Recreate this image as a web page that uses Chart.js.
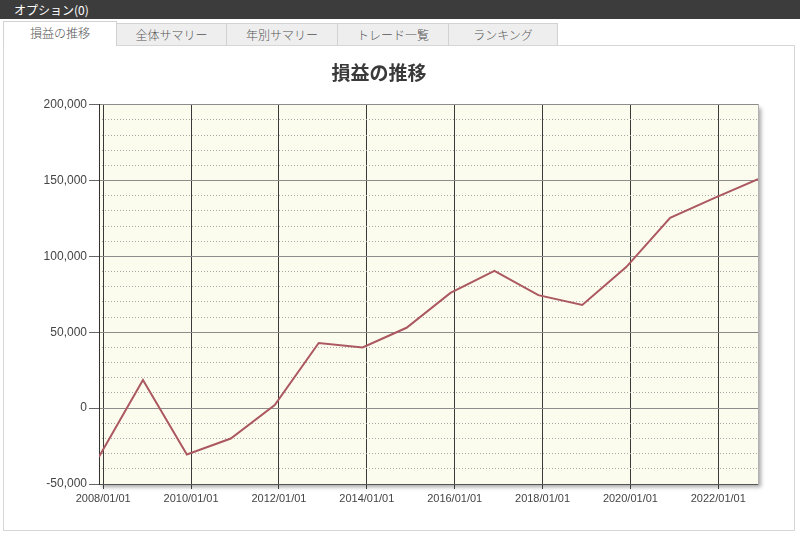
<!DOCTYPE html>
<html lang="ja">
<head>
<meta charset="utf-8">
<title>損益の推移</title>
<script src="https://cdn.jsdelivr.net/npm/chart.js@4.4.0/dist/chart.umd.min.js"></script>
<style>
  html, body { margin: 0; padding: 0; background: #fff; }
  body { width: 800px; height: 537px; position: relative; overflow: hidden;
         font-family: "Noto Sans CJK JP", "Liberation Sans", sans-serif; }
  #bar { position: absolute; left: 0; top: 0; width: 800px; height: 19px; background: #3c3c3c;
         color: #fff; font-size: 12px; line-height: 19px; padding-left: 14px; box-sizing: border-box; }
  .tab { position: absolute; top: 23px; height: 23px; border: 1px solid #d2d2d2; border-bottom: none;
         background: #eeeeee; font-size: 12px; color: #555; text-align: center; line-height: 21px;
         box-sizing: border-box; font-weight: 300; }
  .tab.active { top: 21px; height: 25px; background: #fff; z-index: 2; line-height: 22px; }
  #panel { position: absolute; left: 3px; top: 45px; width: 792px; height: 486px;
           border: 1px solid #d6d6d6; box-sizing: border-box; background: #fff; }
  #wrap { position: absolute; left: 0; top: 0; width: 800px; height: 537px; z-index: 3; }
</style>
</head>
<body>
<div id="bar">オプション(0)</div>
<div class="tab active" style="left:3px;width:114px;">損益の推移</div>
<div class="tab" style="left:116px;width:111px;">全体サマリー</div>
<div class="tab" style="left:226px;width:112px;">年別サマリー</div>
<div class="tab" style="left:337px;width:112px;">トレード一覧</div>
<div class="tab" style="left:448px;width:110px;">ランキング</div>
<div id="panel"></div>
<div id="wrap"><canvas id="chart" width="800" height="537"></canvas></div>

<script>
// data (one point per year, late November)
const dates = [
  "2007/11/27", "2008/11/27", "2009/11/27", "2010/11/27", "2011/11/27", "2012/11/27",
  "2013/11/27", "2014/11/27", "2015/11/27", "2016/11/27", "2017/11/27", "2018/11/27",
  "2019/11/27", "2020/11/27", "2021/11/27", "2022/11/27"
];
const profit = [
  -32000, 18500, -30500, -20000, 2000, 43000, 40000, 53000,
  76000, 90500, 74500, 68000, 93000, 125500, 138500, 151000
];
const xTickYears = [2008, 2010, 2012, 2014, 2016, 2018, 2020, 2022];
const yTicks = [-50000, 0, 50000, 100000, 150000, 200000];

// date string -> fractional year
function toYear(d) {
  const [y, m, dd] = d.split("/").map(Number);
  const start = Date.UTC(y, 0, 1);
  const end = Date.UTC(y + 1, 0, 1);
  return y + (Date.UTC(y, m - 1, dd) - start) / (end - start);
}

const xs = dates.map(toYear);
const points = xs.map((x, i) => ({ x: x, y: profit[i] }));

const plotBg = {
  id: "plotBg",
  beforeDraw(chart) {
    const { ctx, chartArea: a } = chart;
    ctx.save();
    ctx.shadowColor = "rgba(0,0,0,0.35)";
    ctx.shadowBlur = 4;
    ctx.shadowOffsetX = 3;
    ctx.shadowOffsetY = 3;
    ctx.fillStyle = "#fcfcee";
    ctx.fillRect(a.left, a.top, a.right - a.left, a.bottom - a.top);
    ctx.restore();
  },
};

new Chart(document.getElementById("chart"), {
  type: "line",
  data: {
    datasets: [
      {
        label: "損益",
        data: points,
        borderColor: "#ab5860",
        borderWidth: 2,
        pointRadius: 0,
        tension: 0,
        yAxisID: "y",
      },
    ],
  },
  options: {
    responsive: false,
    animation: false,
    layout: { padding: { top: 61, left: 0, right: 42, bottom: 21 } },
    plugins: {
      legend: { display: false },
      tooltip: { enabled: false },
      title: {
        display: true,
        text: "損益の推移",
        color: "#3a3a3a",
        font: { family: '"Noto Sans CJK JP"', size: 19, weight: "bold" },
        padding: { top: 0, bottom: 21 },
      },
    },
    scales: {
      x: {
        type: "linear",
        min: xs[0],
        max: xs[xs.length - 1],
        afterBuildTicks: (s) => {
          s.ticks = xTickYears.map((v) => ({ value: v }));
        },
        afterFit: (s) => {
          s.height = 32;
        },
        grid: { color: "#3a3a3a", lineWidth: 1, tickLength: 5, tickColor: "#3a3a3a" },
        border: { color: "#555", width: 1 },
        ticks: {
          autoSkip: false,
          maxRotation: 0,
          padding: 3,
          color: "#444",
          font: { family: "Liberation Sans", size: 11 },
          callback: (v) => v + "/01/01",
        },
      },
      y: {
        position: "left",
        min: -50000,
        max: 200000,
        afterBuildTicks: (s) => {
          s.ticks = yTicks.map((v) => ({ value: v }));
        },
        afterFit: (s) => {
          s.width = 99;
        },
        grid: { color: "#8c8c8c", tickLength: 10, tickColor: "#666" },
        border: { color: "#333" },
        ticks: {
          padding: 2,
          color: "#444",
          font: { family: "Liberation Sans", size: 12 },
          callback: (v) => v.toLocaleString("en-US"),
        },
      },
      yMinor: {
        position: "right",
        min: -50000,
        max: 200000,
        afterFit: (s) => {
          s.width = 0;
        },
        ticks: { display: false, stepSize: 10000 },
        grid: {
          drawTicks: false,
          color: (c) => (c.tick && c.tick.value % 50000 === 0 ? "rgba(0,0,0,0)" : "#a8a8a8"),
        },
        border: { display: true, color: "#b0b0b0", dash: [1, 2] },
      },
    },
  },
  plugins: [plotBg],
});
</script>
</body>
</html>
